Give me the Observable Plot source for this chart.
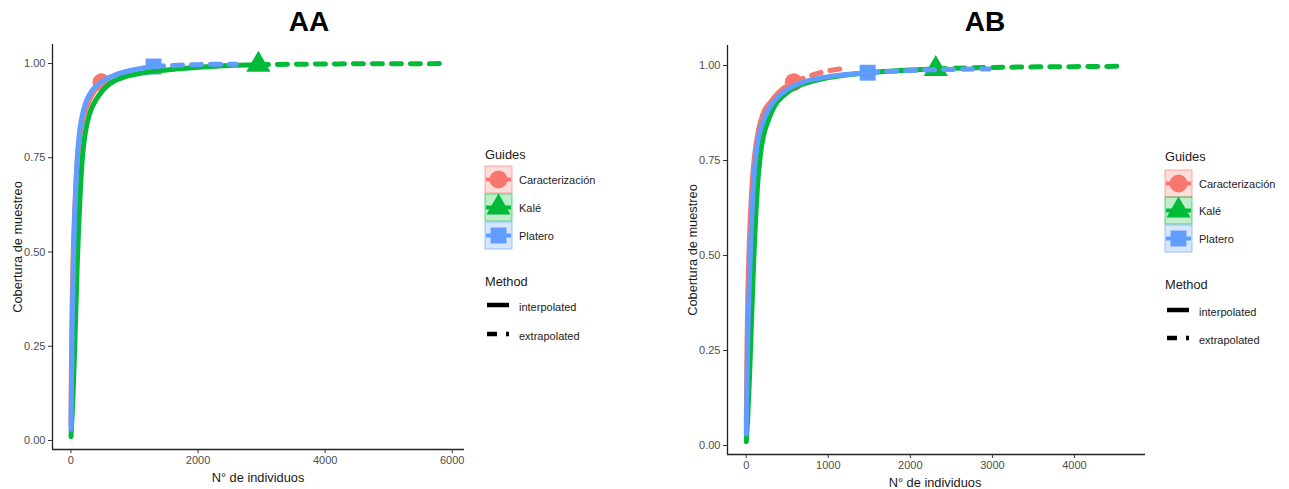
<!DOCTYPE html>
<html>
<head>
<meta charset="utf-8">
<script src="https://cdn.jsdelivr.net/npm/d3@7"></script>
<script src="https://cdn.jsdelivr.net/npm/@observablehq/plot@0.6"></script>
<style>
  body { margin: 0; background: #fff; }
  #chart { position: relative; width: 1289px; height: 489px; overflow: hidden;
           font-family: "Liberation Sans", Arial, sans-serif; background: #fff; }
  #chart > svg { position: absolute; top: 0; }
  .panel-title { position: absolute; font-weight: bold; font-size: 28px; color: #000;
                 transform: translate(-50%, -50%); white-space: nowrap; }
  .axis-title { position: absolute; font-size: 12.8px; color: #1a1a1a;
                transform: translate(-50%, -50%); white-space: nowrap; }
  .axis-title.rot { transform: translate(-50%, -50%) rotate(-90deg); }
</style>
</head>
<body>
<div id="chart"></div>
<script>
// Assemblages, their colours and observed-sample symbols
const guides = ["Caracterización", "Kalé", "Platero"];
const guideColors = ["#F8766D", "#00BA38", "#619CFF"];
const guideSymbols = ["circle", "triangle", "square"];
const methods = ["interpolated", "extrapolated"];
const yTicks = [0, 0.25, 0.5, 0.75, 1];

// ---- AA: sample coverage vs. number of individuals ----
const aaObserved = [480, 2950, 1300]; // reference sample size per assemblage
const aaCaracterizacionN = [1, 5, 10, 20, 35, 50, 75, 100, 150, 200, 300, 400, 480, 600, 720, 850, 960];
const aaCaracterizacionC = [0.04, 0.14, 0.24, 0.37, 0.49, 0.57, 0.67, 0.74, 0.82, 0.86, 0.905, 0.935, 0.95, 0.962, 0.97, 0.975, 0.979];
const aaKaleN = [1, 20, 40, 60, 80, 100, 125, 150, 180, 220, 300, 400, 600, 800, 1100, 1500, 2000, 2500, 2950, 3500, 4200, 5000, 5900];
const aaKaleC = [0.01, 0.07, 0.15, 0.25, 0.36, 0.47, 0.58, 0.67, 0.75, 0.81, 0.87, 0.905, 0.945, 0.962, 0.974, 0.983, 0.99, 0.995, 0.997, 0.998, 0.999, 0.9995, 0.9997];
const aaPlateroN = [1, 10, 25, 40, 60, 80, 100, 130, 170, 220, 300, 400, 550, 700, 900, 1100, 1300, 1600, 2000, 2300, 2600];
const aaPlateroC = [0.03, 0.18, 0.36, 0.48, 0.6, 0.69, 0.75, 0.81, 0.855, 0.89, 0.92, 0.94, 0.958, 0.97, 0.98, 0.987, 0.992, 0.995, 0.997, 0.998, 0.998];
const aaXTicks = [0, 2000, 4000, 6000];

// ---- AB ----
const abObserved = [580, 2310, 1480];
const abCaracterizacionN = [1, 5, 10, 20, 35, 50, 75, 100, 150, 200, 300, 400, 500, 580, 700, 870, 1000, 1160];
const abCaracterizacionC = [0.05, 0.16, 0.27, 0.4, 0.52, 0.6, 0.7, 0.76, 0.83, 0.87, 0.905, 0.93, 0.947, 0.956, 0.967, 0.979, 0.986, 0.991];
const abKaleN = [1, 20, 40, 60, 80, 100, 120, 140, 170, 210, 260, 350, 450, 600, 800, 1000, 1300, 1600, 2000, 2310, 2800, 3400, 4000, 4620];
const abKaleC = [0.01, 0.08, 0.18, 0.3, 0.42, 0.53, 0.62, 0.69, 0.76, 0.815, 0.85, 0.895, 0.92, 0.943, 0.958, 0.968, 0.977, 0.983, 0.988, 0.991, 0.994, 0.996, 0.997, 0.998];
const abPlateroN = [1, 10, 25, 40, 60, 90, 120, 160, 220, 300, 400, 550, 700, 900, 1100, 1300, 1480, 1800, 2200, 2600, 2960];
const abPlateroC = [0.03, 0.17, 0.33, 0.44, 0.56, 0.69, 0.77, 0.82, 0.86, 0.895, 0.92, 0.943, 0.957, 0.967, 0.974, 0.978, 0.981, 0.985, 0.988, 0.99, 0.991];
const abXTicks = [0, 1000, 2000, 3000, 4000];

// Split each curve into its interpolated and extrapolated parts (they share the observed point)
function buildRows(series, observed) {
  const out = [];
  series.forEach(([ns, cs], i) => {
    ns.forEach((n, j) => {
      if (n <= observed[i]) out.push({guide: guides[i], method: "interpolated", n, c: cs[j]});
      if (n >= observed[i]) out.push({guide: guides[i], method: "extrapolated", n, c: cs[j]});
    });
  });
  return out;
}

function coveragePlot({rows, observed, width, marginLeft, marginRight, marginTop, marginBottom, xDomain, yDomain, xTicks}) {
  const obsRows = rows.filter(d => d.method === "interpolated" && d.n === observed[guides.indexOf(d.guide)]);
  const lineMarks = guides.flatMap(g => [
    Plot.line(rows.filter(d => d.guide === g && d.method === "interpolated"),
      {x: "n", y: "c", stroke: "guide", strokeWidth: 5, curve: "monotone-x"}),
    Plot.line(rows.filter(d => d.guide === g && d.method === "extrapolated"),
      {x: "n", y: "c", stroke: "guide", strokeWidth: 5, strokeDasharray: "10,9", curve: "monotone-x"})
  ]);
  return Plot.plot({
    width, height: 489, marginLeft, marginRight, marginTop, marginBottom,
    style: {fontFamily: "Liberation Sans, Arial, sans-serif", fontSize: "11px", background: "transparent", overflow: "visible"},
    x: {domain: xDomain},
    y: {domain: yDomain},
    color: {domain: guides, range: guideColors},
    symbol: {domain: guides, range: guideSymbols},
    marks: [
      Plot.dot(obsRows, {x: "n", y: "c", fill: "guide", symbol: "guide", r: 9, stroke: "none"}),
      ...lineMarks,
      Plot.ruleX([xDomain[0]], {stroke: "#222", strokeWidth: 1.3}),
      Plot.ruleY([yDomain[0]], {stroke: "#222", strokeWidth: 1.3}),
      Plot.axisX({ticks: xTicks, tickSize: 4, tickPadding: 3, tickFormat: d => String(d),
                  label: null, stroke: "#333", fill: "#4D4D4D"}),
      Plot.axisY({ticks: yTicks, tickSize: 4, tickPadding: 3, tickFormat: d3.format(".2f"),
                  label: null, stroke: "#333", fill: "#4D4D4D"})
    ]
  });
}

const chart = document.getElementById("chart");

const aaRows = buildRows([[aaCaracterizacionN, aaCaracterizacionC], [aaKaleN, aaKaleC], [aaPlateroN, aaPlateroC]], aaObserved);
const aaPlot = coveragePlot({
  rows: aaRows, observed: aaObserved, width: 470,
  marginLeft: 52, marginRight: 6, marginTop: 44, marginBottom: 40,
  xDomain: [-290, 6193], yDomain: [-0.0239, 1.0504], xTicks: aaXTicks
});
aaPlot.style.left = "0px";
chart.appendChild(aaPlot);

const abRows = buildRows([[abCaracterizacionN, abCaracterizacionC], [abKaleN, abKaleC], [abPlateroN, abPlateroC]], abObserved);
const abPlot = coveragePlot({
  rows: abRows, observed: abObserved, width: 490,
  marginLeft: 67, marginRight: 5, marginTop: 45, marginBottom: 35,
  xDomain: [-228, 4866], yDomain: [-0.0237, 1.0526], xTicks: abXTicks
});
abPlot.style.left = "660px";
chart.appendChild(abPlot);

// Titles and axis titles
function addText(cls, text, x, y) {
  const el = document.createElement("div");
  el.className = cls;
  el.textContent = text;
  el.style.left = x + "px";
  el.style.top = y + "px";
  chart.appendChild(el);
}
addText("panel-title", "AA", 309, 22);
addText("panel-title", "AB", 985, 22);
addText("axis-title", "N° de individuos", 258, 477);
addText("axis-title", "N° de individuos", 935, 482);
addText("axis-title rot", "Cobertura de muestreo", 17, 247);
addText("axis-title rot", "Cobertura de muestreo", 692, 250);

// Legends (Guides: colour + symbol; Method: line type)
const legendSvg = d3.select(chart).append("svg")
  .attr("width", 1289).attr("height", 489)
  .style("left", "0px").style("font-family", "Liberation Sans, Arial, sans-serif");

const symbolTypes = {circle: d3.symbolCircle, triangle: d3.symbolTriangle, square: d3.symbolSquare};

function drawLegend(x0, cfg) {
  const g = legendSvg.append("g");
  g.append("text").attr("x", x0).attr("y", cfg.guidesY).attr("dy", "0.35em")
    .attr("font-size", 12.8).attr("fill", "#1a1a1a").text("Guides");
  guides.forEach((name, i) => {
    const top = cfg.boxTops[i], cy = top + cfg.boxH / 2, cx = x0 + 13.5;
    g.append("rect").attr("x", x0).attr("y", top).attr("width", 27).attr("height", cfg.boxH)
      .attr("fill", guideColors[i]).attr("fill-opacity", 0.25)
      .attr("stroke", guideColors[i]).attr("stroke-opacity", 0.6);
    g.append("path").attr("transform", `translate(${cx},${cy})`)
      .attr("d", d3.symbol(symbolTypes[guideSymbols[i]], Math.PI * 81)()).attr("fill", guideColors[i]);
    g.append("line").attr("x1", x0 + 1).attr("x2", x0 + 26).attr("y1", cy).attr("y2", cy)
      .attr("stroke", guideColors[i]).attr("stroke-width", 4);
    g.append("text").attr("x", x0 + 34).attr("y", cy + 1).attr("dy", "0.35em")
      .attr("font-size", 11).attr("fill", "#222").text(name);
  });
  g.append("text").attr("x", x0).attr("y", cfg.methodY).attr("dy", "0.35em")
    .attr("font-size", 12.8).attr("fill", "#1a1a1a").text("Method");
  methods.forEach((m, i) => {
    const y = cfg.methodRows[i];
    g.append("line").attr("x1", x0 + 2).attr("x2", x0 + 24).attr("y1", y).attr("y2", y)
      .attr("stroke", "#000").attr("stroke-width", 4.5)
      .attr("stroke-dasharray", m === "extrapolated" ? "10,9" : null);
    g.append("text").attr("x", x0 + 34).attr("y", y + 2).attr("dy", "0.35em")
      .attr("font-size", 11).attr("fill", "#222").text(m);
  });
}
drawLegend(485, {guidesY: 155, boxTops: [166, 194, 222], boxH: 27, methodY: 282, methodRows: [305, 334]});
drawLegend(1165, {guidesY: 157, boxTops: [170, 197, 225], boxH: 27, methodY: 285, methodRows: [310, 338]});
</script>
</body>
</html>
